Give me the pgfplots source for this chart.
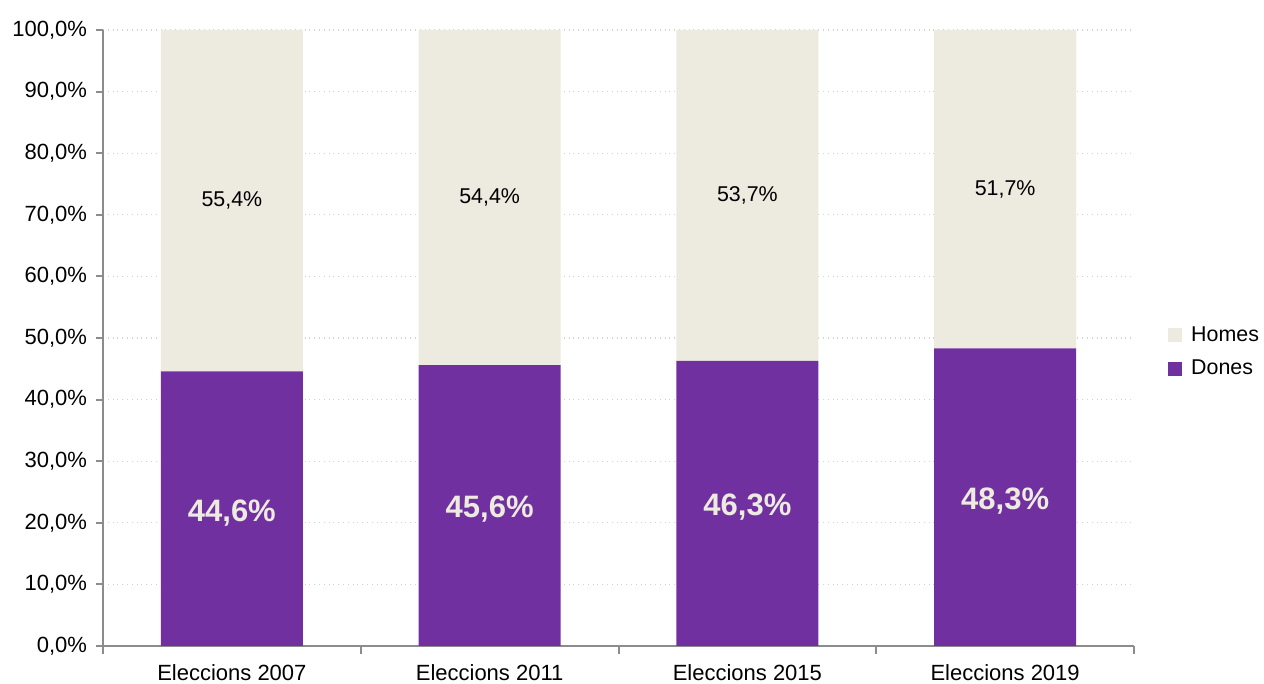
\documentclass[border=0pt]{standalone}
\usepackage{fontspec}
\setmainfont{Liberation Sans}
\usepackage{pgfplots}
\pgfplotsset{compat=1.18}
\definecolor{dones}{HTML}{7030A0}
\definecolor{homes}{HTML}{EDEAE0}
\definecolor{axgray}{HTML}{8C8C8C}
\begin{document}
\begin{tikzpicture}[x=1pt,y=1pt]
\path[use as bounding box] (0,0) rectangle (632,342);
\begin{axis}[
  at={(51.5pt,19pt)}, anchor=south west,
  scale only axis, width=515.5pt, height=308pt,
  ybar stacked, bar width=71pt,
  xmin=-0.5, xmax=3.5, ymin=0, ymax=100,
  axis x line*=bottom, axis y line*=left,
  axis line style={axgray, line width=1pt},
  xtick={0,1,2,3},
  xticklabels={Eleccions 2007,Eleccions 2011,Eleccions 2015,Eleccions 2019},
  major x tick style={draw=none},
  minor xtick={-0.5,0.5,1.5,2.5,3.5},
  minor x tick style={axgray, line width=1pt},
  minor tick length=4pt,
  ytick={0,10,...,100},
  yticklabels={{0,0\%},{10,0\%},{20,0\%},{30,0\%},{40,0\%},{50,0\%},{60,0\%},{70,0\%},{80,0\%},{90,0\%},{100,0\%}},
  y tick style={axgray, line width=1pt},
  major tick length=3.5pt,
  tick align=outside,
  ymajorgrids, grid style={dotted, gray!35, line width=0.6pt},
  tick label style={font=\fontsize{11}{13}\selectfont, black},
  xticklabel style={yshift=-2pt},
  yticklabel style={xshift=-1pt},
  legend style={at={(1.027,0.477)}, anchor=west, draw=none, fill=none,
    font=\fontsize{10.7}{13}\selectfont, row sep=4pt},
  legend cell align=left,
  reverse legend,
  legend image code/.code={\fill[#1] (0pt,-3.5pt) rectangle (7pt,3.5pt); \path (9.5pt,0pt);},
  point meta=explicit symbolic, nodes near coords,
]
\addplot[fill=dones, draw=none,
  every node near coord/.append style={text=homes, yshift=-2pt, font=\fontsize{15.5}{18}\selectfont\bfseries}]
  table[meta=label] {
x y label
0 44.6 44,6\%
1 45.6 45,6\%
2 46.3 46,3\%
3 48.3 48,3\%
};
\addlegendentry{Dones}
\addplot[fill=homes, draw=none,
  every node near coord/.append style={text=black, font=\fontsize{10.7}{13}\selectfont}]
  table[meta=label] {
x y label
0 55.4 55,4\%
1 54.4 54,4\%
2 53.7 53,7\%
3 51.7 51,7\%
};
\addlegendentry{Homes}
\end{axis}
\end{tikzpicture}
\end{document}
